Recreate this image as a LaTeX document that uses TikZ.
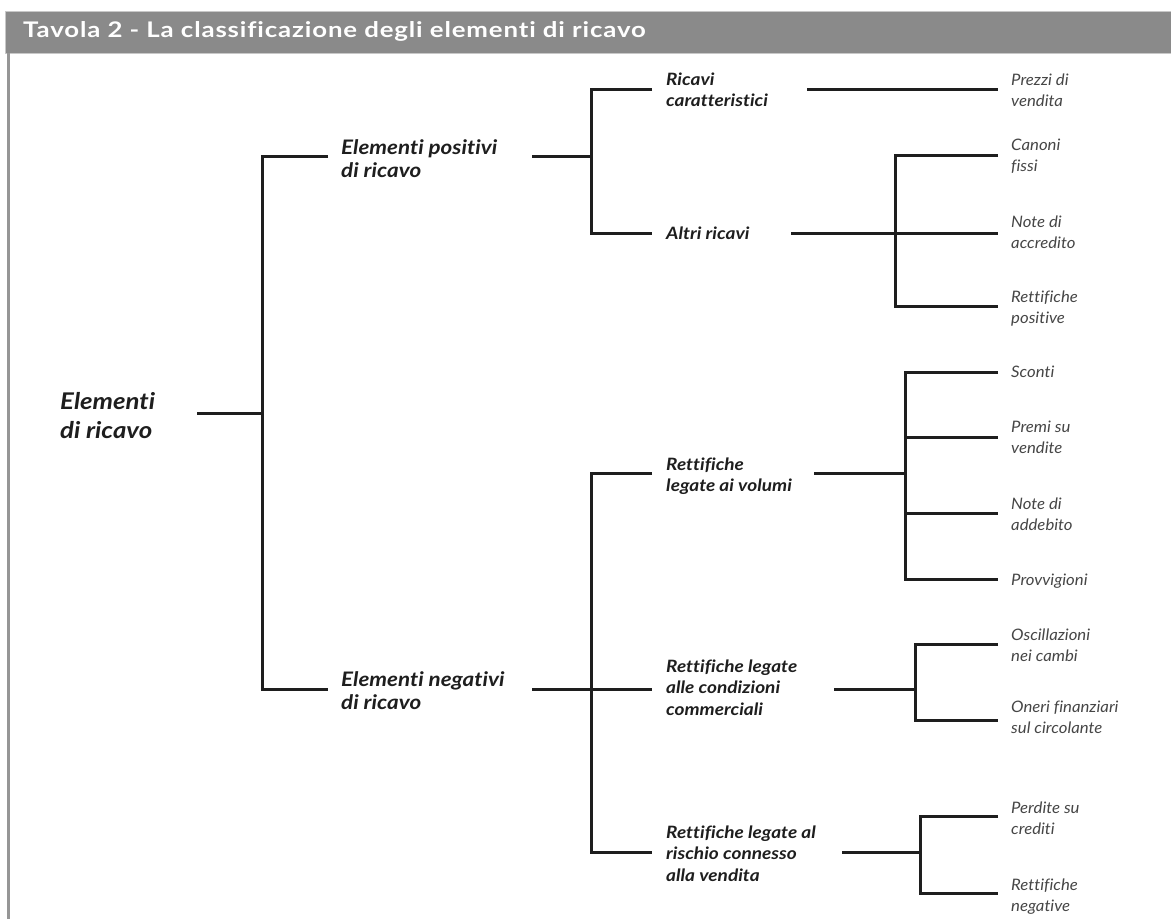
\documentclass[tikz,border=0pt]{standalone}
\usepackage{fontspec}
\setmainfont[Ligatures=NoCommon]{Lato}
\newfontfamily\lblfont[FakeStretch=1.12, Ligatures=NoCommon]{Lato}
\newfontfamily\leaffont[FakeStretch=1.06, Ligatures=NoCommon]{Lato}
\newfontfamily\ttlfont[FakeStretch=1.2, LetterSpace=4, Ligatures=NoCommon]{Lato}
\definecolor{hdr}{RGB}{138,138,138}
\definecolor{hdredge}{RGB}{200,200,200}
\definecolor{frame}{RGB}{150,150,150}
\definecolor{ink}{RGB}{30,30,30}
\definecolor{leafc}{RGB}{70,70,70}
\newcommand{\lns}[1]{\begin{tabular}[t]{@{}l@{}}#1\end{tabular}}
\tikzset{
  conn/.style={draw=ink, line width=3pt},
  leaf/.style={anchor=base west, inner sep=0pt, text=leafc, font=\leaffont\fontsize{15.8}{21.5}\selectfont\itshape},
  mid/.style={anchor=base west, inner sep=0pt, text=ink, font=\lblfont\fontsize{17}{21.5}\selectfont\bfseries\itshape},
  lvlone/.style={anchor=base west, inner sep=0pt, text=ink, font=\lblfont\fontsize{20}{23}\selectfont\bfseries\itshape},
  rootlab/.style={anchor=base west, inner sep=0pt, text=ink, font=\lblfont\fontsize{23}{29}\selectfont\bfseries\itshape},
  titlelab/.style={anchor=base west, inner sep=0pt, text=white, font=\ttlfont\fontsize{21.5}{26}\selectfont\bfseries}
}
\begin{document}
\begin{tikzpicture}[x=1pt,y=-1pt]
\useasboundingbox (0,0) rectangle (1171,919);
\fill[white] (0,0) rectangle (1171,919);
% header
\fill[hdr, draw=hdredge, line width=1pt] (5,11) rectangle (1175,53);
\node[titlelab] (title) at (23,37) {Tavola 2 - La classificazione degli elementi di ricavo};
\draw[frame, line width=3pt] (8,53) -- (8,925);

% labels
\node[rootlab] (root) at (60,409) {\lns{Elementi\\di ricavo}};
\node[lvlone] (pos) at (341,154) {\lns{Elementi positivi\\di ricavo}};
\node[lvlone] (neg) at (341,686) {\lns{Elementi negativi\\di ricavo}};

\node[mid] (rc) at (666,85) {\lns{Ricavi\\caratteristici}};
\node[mid] (ar) at (666,239) {\lns{Altri ricavi}};
\node[mid] (rv) at (666,470) {\lns{Rettifiche\\legate ai volumi}};
\node[mid] (rcc) at (666,672) {\lns{Rettifiche legate\\alle condizioni\\commerciali}};
\node[mid] (rr) at (666,838) {\lns{Rettifiche legate al\\rischio connesso\\alla vendita}};

\node[leaf] (l1) at (1011,85) {\lns{Prezzi di\\vendita}};
\node[leaf] (l2) at (1011,150) {\lns{Canoni\\fissi}};
\node[leaf] (l3) at (1011,227) {\lns{Note di\\accredito}};
\node[leaf] (l4) at (1011,302) {\lns{Rettifiche\\positive}};
\node[leaf] (l5) at (1011,377) {\lns{Sconti}};
\node[leaf] (l6) at (1011,432) {\lns{Premi su\\vendite}};
\node[leaf] (l7) at (1011,509) {\lns{Note di\\addebito}};
\node[leaf] (l8) at (1011,585) {\lns{Provvigioni}};
\node[leaf] (l9) at (1011,640) {\lns{Oscillazioni\\nei cambi}};
\node[leaf] (l10) at (1011,712) {\lns{Oneri finanziari\\sul circolante}};
\node[leaf] (l11) at (1011,813) {\lns{Perdite su\\crediti}};
\node[leaf] (l12) at (1011,890) {\lns{Rettifiche\\negative}};

% connector points
\coordinate (rootout) at (197,413);
\coordinate (j0) at (262,413);
\coordinate (posin) at (328,156);
\coordinate (negin) at (328,689);
\coordinate (posout) at (532,156);
\coordinate (negout) at (532,689);
\coordinate (jp) at (591,156);
\coordinate (jn) at (591,689);
\coordinate (rcin) at (652,89);
\coordinate (arin) at (652,233);
\coordinate (rvin) at (652,473);
\coordinate (rccin) at (652,689);
\coordinate (rrin) at (652,852);
\coordinate (rcout) at (807,89);
\coordinate (arout) at (791,233);
\coordinate (rvout) at (814,473);
\coordinate (rccout) at (834,689);
\coordinate (rrout) at (842,852);
\coordinate (ja) at (895,233);
\coordinate (jv) at (905,473);
\coordinate (jc) at (915,689);
\coordinate (jr) at (920,852);
\coordinate (l1in) at (998,89);
\coordinate (l2in) at (998,155);
\coordinate (l3in) at (998,233);
\coordinate (l4in) at (998,306);
\coordinate (l5in) at (998,372);
\coordinate (l6in) at (998,437);
\coordinate (l7in) at (998,513);
\coordinate (l8in) at (998,579);
\coordinate (l9in) at (998,644);
\coordinate (l10in) at (998,720);
\coordinate (l11in) at (998,816);
\coordinate (l12in) at (998,893);

% tree
\draw[conn] (rootout) -- (j0);
\draw[conn] (posin) -| (j0) |- (negin);
\draw[conn] (posout) -- (jp);
\draw[conn] (rcin) -| (jp) |- (arin);
\draw[conn] (negout) -- (rccin);
\draw[conn] (rvin) -| (jn) |- (rrin);
\draw[conn] (rcout) -- (l1in);
\draw[conn] (arout) -- (l3in);
\draw[conn] (l2in) -| (ja) |- (l4in);
\draw[conn] (rvout) -- (jv);
\draw[conn] (l5in) -| (jv) |- (l8in);
\draw[conn] (jv |- l6in) -- (l6in);
\draw[conn] (jv |- l7in) -- (l7in);
\draw[conn] (rccout) -- (jc);
\draw[conn] (l9in) -| (jc) |- (l10in);
\draw[conn] (rrout) -- (jr);
\draw[conn] (l11in) -| (jr) |- (l12in);
\end{tikzpicture}
\end{document}
